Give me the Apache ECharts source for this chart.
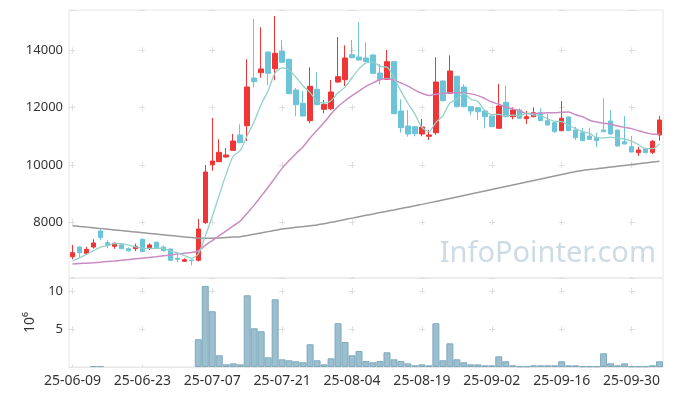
<!DOCTYPE html>
<html><head><meta charset="utf-8">
<script src="https://cdn.jsdelivr.net/npm/echarts@6/dist/echarts.min.js"></script>
<style>html,body{margin:0;padding:0;background:#fff}#c{width:673px;height:396px}</style>
</head><body><div id="c"></div>
<script>
const dates = ['25-06-09','25-06-10','25-06-11','25-06-12','25-06-13','25-06-16','25-06-17','25-06-18','25-06-19','25-06-20',
'25-06-23','25-06-24','25-06-25','25-06-26','25-06-27','25-06-30','25-07-01','25-07-02','25-07-03','25-07-04',
'25-07-07','25-07-08','25-07-09','25-07-10','25-07-11','25-07-14','25-07-15','25-07-16','25-07-17','25-07-18',
'25-07-21','25-07-22','25-07-23','25-07-24','25-07-25','25-07-28','25-07-29','25-07-30','25-07-31','25-08-01',
'25-08-04','25-08-05','25-08-06','25-08-07','25-08-08','25-08-11','25-08-12','25-08-13','25-08-14','25-08-18',
'25-08-19','25-08-20','25-08-21','25-08-22','25-08-25','25-08-26','25-08-27','25-08-28','25-08-29','25-09-01',
'25-09-02','25-09-03','25-09-04','25-09-05','25-09-08','25-09-09','25-09-10','25-09-11','25-09-12','25-09-15',
'25-09-16','25-09-17','25-09-18','25-09-19','25-09-22','25-09-23','25-09-24','25-09-25','25-09-26','25-09-29',
'25-09-30','25-10-01','25-10-02','25-10-10','25-10-13'];

const opens = [6800,7138,6919,7138,7697,7288,7163,7219,7079,7079,
7407,7079,7302,7138,7069,6744,6640,6685,6675,7986,
10009,10114,10278,10511,11045,11369,13033,13218,13940,13358,
13963,13685,12615,12151,11544,12639,11941,11962,12893,12974,
13846,13766,13731,13836,13207,12988,13603,11882,11359,11335,
11080,11000,11125,12928,12500,13093,12716,12032,11997,11882,
11708,11279,12186,11683,11917,11614,11683,11823,11544,11474,
11195,11673,11219,11125,11010,10951,11219,11533,11219,10811,
10637,10428,10567,10442,11045];
const closes = [6940,6940,7058,7278,7463,7198,7268,7079,7009,7163,
6975,7208,7114,7009,6675,6709,6695,6661,7766,9754,
10138,10442,10347,10836,10777,12719,12904,13347,13197,13893,
13581,12486,12102,11708,12744,12102,12116,12545,13079,13731,
13741,13661,13603,13197,12988,13603,11788,11300,11080,11090,
11324,11045,12893,12241,13277,12032,12032,11882,11858,11683,
11335,12057,11683,11917,11628,11683,11823,11544,11394,11160,
11628,11195,10951,10846,10895,10846,11160,11080,10661,10731,
10452,10522,10428,10825,11568];
const lows = [6709,6779,6884,7079,7383,7093,7079,7079,6975,6999,
6960,7034,7100,6980,6650,6605,6615,6500,6640,7941,
9800,10100,10250,10500,10760,10836,12709,13044,12779,12953,
13560,12470,11697,11690,11453,12080,11802,11907,12870,12754,
13720,13640,13590,13180,12813,12970,11770,11125,10986,11000,
11000,10871,11055,12220,12480,12010,12010,11732,11568,11279,
11320,11270,11660,11592,11600,11429,11670,11530,11380,11125,
11180,11180,10871,10830,10880,10616,11150,11060,10640,10720,
10440,10313,10410,10382,10846];
const highs = [7208,7150,7142,7407,7756,7372,7292,7243,7128,7254,
7428,7268,7330,7184,7069,6859,6744,6685,8115,9999,
11638,10895,10592,11080,11418,13685,15091,14802,13960,15196,
14359,13700,12684,12580,13406,13232,12266,12964,14463,14174,
14359,14987,14265,13860,13521,14010,13620,12290,11917,11350,
11603,11219,13755,12950,13825,13110,12810,12050,12010,11900,
11720,12824,12765,12011,11976,11882,12011,11976,11778,11490,
12231,11690,11335,11300,11300,11125,12325,11917,11230,11708,
11010,10637,10600,10871,11708];

const ma5 = [6650,6760,6880,7010,7136,7187,7253,7257,7203,7143,
7099,7087,7094,7094,6996,6943,6840,6750,6901,7517,
8203,8952,9689,10303,10508,11024,11517,12117,12589,13212,
13384,13301,13052,12754,12524,12228,12154,12243,12517,12715,
13042,13351,13563,13587,13438,13410,13036,12575,12152,11772,
11316,11168,11486,11719,12156,12298,12495,12293,12216,11897,
11758,11763,11723,11735,11724,11794,11747,11719,11614,11521,
11510,11384,11266,11160,11107,10951,10944,10969,10932,10906,
10830,10703,10567,10567,10735];
const ma20 = [6545,6560,6575,6590,6610,6630,6650,6675,6700,6725,
6750,6775,6800,6830,6860,6890,6920,6950,7000,7198,
7358,7533,7698,7875,8041,8317,8599,8912,9222,9558,
9889,10153,10402,10637,10940,11210,11481,11775,12041,12240,
12420,12581,12744,12862,12972,13016,12961,12858,12752,12612,
12499,12427,12467,12494,12520,12517,12513,12479,12418,12316,
12196,12115,12019,11955,11887,11791,11793,11805,11821,11825,
11840,11847,11750,11680,11561,11502,11458,11418,11358,11311,
11267,11190,11127,11073,11070];
const ma60 = [7881,7857,7832,7808,7783,7759,7735,7710,7686,7661,
7637,7613,7588,7564,7540,7515,7491,7466,7442,7440,
7445,7455,7470,7485,7500,7540,7585,7630,7675,7720,
7765,7795,7825,7850,7878,7906,7952,7998,8045,8095,
8145,8195,8243,8290,8338,8385,8432,8480,8528,8576,
8625,8677,8729,8781,8833,8885,8937,8989,9041,9093,
9145,9197,9249,9301,9353,9405,9457,9509,9561,9613,
9665,9717,9769,9810,9840,9869,9898,9927,9956,9985,
10014,10043,10072,10100,10128];

const volumes = [0,0,0,0.12,0.12,0,0,0,0,0,
0,0,0,0,0,0,0,0,3.64,10.66,
7.33,1.54,0.35,0.48,0.35,9.43,5.09,4.70,1.27,8.90,
1.01,0.88,0.75,0.62,2.99,0.88,0.35,1.14,5.75,3.29,
1.54,2.10,0.79,0.62,0.79,1.93,1.01,0.79,0.48,0.22,
0.35,0.22,5.75,0.88,3.11,1.01,0.62,0.35,0.35,0.22,
0.22,1.40,0.75,0.22,0.09,0.09,0.22,0.22,0.22,0.22,
0.75,0.22,0.22,0.09,0.09,0.09,1.80,0.48,0.22,0.48,
0.09,0.09,0.09,0.22,0.75];

const volumeUnit = '10\u2076';
const watermark = 'InfoPointer.com';

const kData = dates.map((d, i) => [opens[i], closes[i], lows[i], highs[i]]);
const volData = volumes.map(v => (v > 0 ? v : null));
const FONT = 'Noto Sans';
const gridCol = '#e6e6e6';
const markCol = '#dedede';

const chart = echarts.init(document.getElementById('c'), null, {renderer: 'canvas'});
chart.setOption({
  animation: false,
  textStyle: {fontFamily: FONT},
  grid: [
    {left: 69, right: 10, top: 10, height: 268, show: true, borderColor: gridCol, borderWidth: 1},
    {left: 69, right: 10, top: 278, height: 89, show: true, borderColor: gridCol, borderWidth: 1}
  ],
  xAxis: [
    {type: 'category', data: dates, gridIndex: 0, boundaryGap: true,
     axisLine: {show: false}, axisTick: {show: false}, axisLabel: {show: false},
     splitLine: {show: true, interval: 9, alignWithLabel: true,
       lineStyle: {color: markCol, width: 1, type: [6, 51.33], dashOffset: 20}}},
    {type: 'category', data: dates, gridIndex: 1, boundaryGap: true,
     axisLine: {show: true, lineStyle: {color: gridCol}}, axisTick: {show: false},
     axisLabel: {interval: 9, color: '#333', fontSize: 14, fontFamily: FONT, margin: 7},
     splitLine: {show: true, interval: 9, alignWithLabel: true,
       lineStyle: {color: markCol, width: 1, type: [6, 32.3], dashOffset: 28.3}}}
  ],
  yAxis: [
    {type: 'value', gridIndex: 0, min: 6057, max: 15405, splitNumber: 5, scale: true,
     axisLine: {show: false}, axisTick: {show: false},
     axisLabel: {color: '#333', fontSize: 13, fontFamily: FONT, margin: 6, showMinLabel: false, showMaxLabel: false,
       formatter: v => String(Math.round(v))},
     splitLine: {show: true, lineStyle: {color: markCol, width: 1, type: [6, 64], dashOffset: 0}}},
    {type: 'value', gridIndex: 1, min: 0, max: 11.7, interval: 5,
     name: volumeUnit, nameLocation: 'middle', nameRotate: 90, nameGap: 30,
     nameTextStyle: {color: '#333', fontSize: 14, fontFamily: FONT},
     axisLine: {show: false}, axisTick: {show: false},
     axisLabel: {color: '#333', fontSize: 13, fontFamily: FONT, margin: 6, showMinLabel: false, showMaxLabel: false},
     splitLine: {show: true, lineStyle: {color: markCol, width: 1, type: [6, 64], dashOffset: 0}}}
  ],
  graphic: [{
    type: 'text', right: 17, top: 239, z: 0, silent: true,
    style: {text: watermark, fill: '#cddbe5', font: '29px "Noto Sans"'}
  }],
  series: [
    {type: 'candlestick', xAxisIndex: 0, yAxisIndex: 0, data: kData, barWidth: 5,
     itemStyle: {color: '#ef3535', color0: '#6cc4d8', borderColor: '#ef3535', borderColor0: '#6cc4d8', borderWidth: 1}},
    {type: 'line', xAxisIndex: 0, yAxisIndex: 0, data: ma60, symbol: 'none', smooth: 0.3,
     lineStyle: {color: '#999999', width: 1.5}, z: 3},
    {type: 'line', xAxisIndex: 0, yAxisIndex: 0, data: ma20, symbol: 'none', smooth: 0.3,
     lineStyle: {color: '#c98cc3', width: 1.5}, z: 3},
    {type: 'line', xAxisIndex: 0, yAxisIndex: 0, data: ma5, symbol: 'none', smooth: 0.3,
     lineStyle: {color: '#93d1c8', width: 1.3}, z: 3},
    {type: 'bar', xAxisIndex: 1, yAxisIndex: 1, data: volData, barWidth: '100%', barCategoryGap: 0,
     itemStyle: {color: '#9bbfcf', borderColor: '#7fa9bd', borderWidth: 1}}
  ]
});
</script></body></html>
